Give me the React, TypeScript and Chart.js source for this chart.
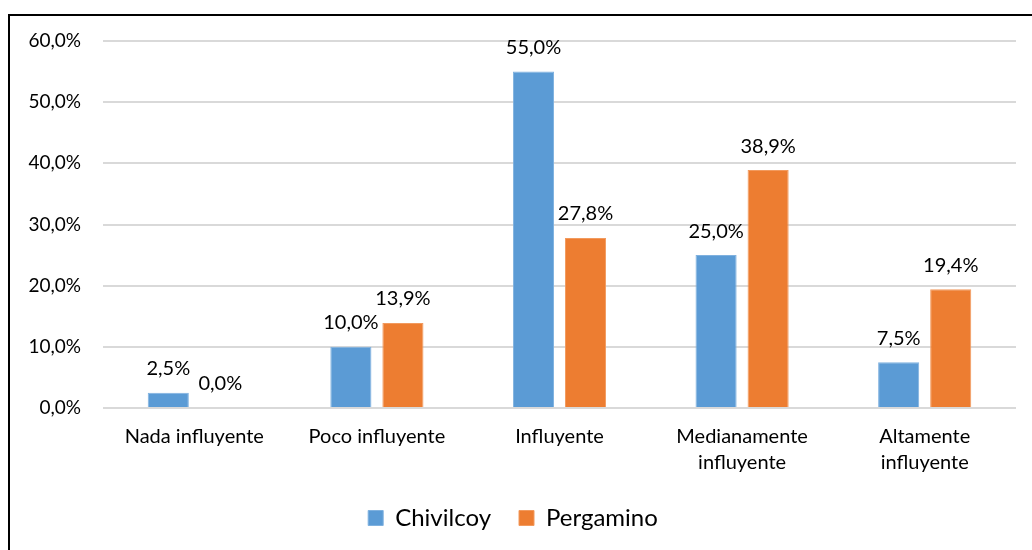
import React, { useEffect, useRef } from "react";
import { Chart, registerables } from "chart.js";

Chart.register(...registerables);

const categories: (string | string[])[] = [
  "Nada influyente",
  "Poco influyente",
  "Influyente",
  ["Medianamente", "influyente"],
  ["Altamente", "influyente"],
];
const chivilcoy = [2.5, 10.0, 55.0, 25.0, 7.5];
const pergamino = [0.0, 13.9, 27.8, 38.9, 19.4];
const yTicks = [0, 10, 20, 30, 40, 50, 60];

const FONT = "Lato, 'Open Sans', sans-serif";
const fmt = (v: number) => v.toFixed(1).replace(".", ",") + "%";

const labelPlugin = {
  id: "valueLabels",
  afterDatasetsDraw(chart: any) {
    const ctx = chart.ctx;
    ctx.save();
    ctx.font = `20px ${FONT}`;
    ctx.fillStyle = "#000";
    ctx.textAlign = "center";
    ctx.textBaseline = "bottom";
    chart.data.datasets.forEach((ds: any, i: number) => {
      const meta = chart.getDatasetMeta(i);
      meta.data.forEach((bar: any, j: number) => {
        ctx.fillText(fmt(ds.data[j]), bar.x, bar.y - 14);
      });
    });
    ctx.restore();
  },
};

export default function App() {
  const ref = useRef<HTMLCanvasElement>(null);
  useEffect(() => {
    if (!ref.current) return;
    const chart = new Chart(ref.current, {
      type: "bar",
      data: {
        labels: categories,
        datasets: [
          {
            label: "Chivilcoy",
            data: chivilcoy,
            backgroundColor: "#5B9BD5",
            borderColor: "#7fb1df",
            borderWidth: 1,
          },
          {
            label: "Pergamino",
            data: pergamino,
            backgroundColor: "#ED7D31",
            borderColor: "#f29a5e",
            borderWidth: 1,
          },
        ],
      },
      options: {
        responsive: false,
        animation: false,
        datasets: {
          bar: { categoryPercentage: 0.57, barPercentage: 0.79 },
        } as any,
        layout: { padding: { top: 25, right: 16, left: 0, bottom: 10 } },
        plugins: {
          legend: {
            position: "bottom",
            labels: {
              font: { family: FONT, size: 24 },
              color: "#000",
              boxWidth: 15,
              boxHeight: 15,
              padding: 28,
            },
          },
          tooltip: { enabled: false },
        },
        scales: {
          x: {
            grid: { display: false, drawTicks: false },
            border: { display: false },
            ticks: {
              font: { family: FONT, size: 20, lineHeight: 1.3 },
              color: "#000",
              padding: 16,
              maxRotation: 0,
              autoSkip: false,
            },
            afterFit: (s: any) => {
              s.height = 70;
            },
          },
          y: {
            min: 0,
            max: 60,
            afterBuildTicks: (s: any) => {
              s.ticks = yTicks.map((v) => ({ value: v }));
            },
            grid: {
              color: "#d9d9d9",
              lineWidth: 2,
              drawTicks: true,
              tickLength: 22,
              tickColor: "rgba(0,0,0,0)",
            },
            border: { display: false },
            ticks: {
              font: { family: FONT, size: 19 },
              color: "#000",
              padding: 0,
              callback: (v: any) => fmt(Number(v)),
            },
            afterFit: (s: any) => {
              s.width = 93;
            },
          },
        },
      },
      plugins: [labelPlugin],
    });
    return () => chart.destroy();
  }, []);
  return (
    <div
      style={{
        position: "absolute",
        left: 8,
        top: 14,
        width: 1040,
        height: 560,
        border: "2px solid #000",
        boxSizing: "border-box",
        background: "#fff",
      }}
    >
      <canvas ref={ref} width={1022} height={534} style={{ display: "block" }} />
    </div>
  );
}
